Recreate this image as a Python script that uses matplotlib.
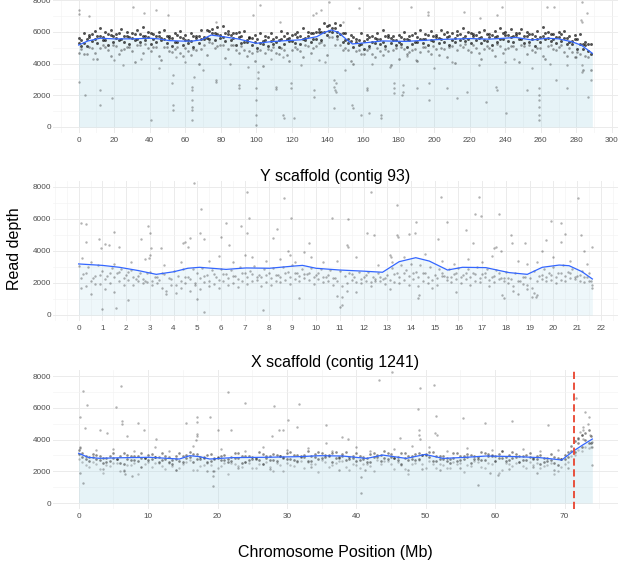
import numpy as np
import matplotlib.pyplot as plt
from matplotlib.ticker import MultipleLocator, FixedLocator

plt.rcParams['font.family'] = ['Liberation Sans', 'DejaVu Sans']

# ---------------- top panel (title cut off at top) ----------------
top_smooth_x = [0, 5, 12, 20, 30, 40, 45, 51, 58, 64, 69, 74.5, 80, 90, 100, 108, 117, 125, 134, 138,
                142, 146, 151, 154, 160, 171, 184, 203, 220, 231, 246, 255, 263.5, 270, 277.5, 283, 289]
top_smooth_y = [5170, 5420, 5600, 5560, 5560, 5600, 5560, 5450, 5420, 5420, 5500, 5800, 5720, 5550, 5280, 5380, 5450, 5500, 5700, 5950,
                6120, 5980, 5490, 5240, 5300, 5430, 5400, 5520, 5580, 5540, 5650, 5490, 5600, 5560, 5380, 5150, 4650]

top_band_x = [0, 3, 6, 9, 12, 15, 18, 21, 24, 27,
              30, 33, 36, 39, 42, 45, 48, 51, 54, 57,
              60, 63, 66, 69, 72, 75, 78, 81, 84, 87,
              90, 93, 96, 99, 102, 105, 108, 111, 114, 117,
              120, 123, 126, 129, 132, 135, 138, 141, 144, 147,
              150, 153, 156, 159, 162, 165, 168, 171, 174, 177,
              180, 183, 186, 189, 192, 195, 198, 201, 204, 207,
              210, 213, 216, 219, 222, 225, 228, 231, 234, 237,
              240, 243, 246, 249, 252, 255, 258, 261, 264, 267,
              270, 273, 276, 279, 282, 285, 288]
top_hi = [5600, 5930, 5790, 6060, 6250, 5970, 6110, 5850, 6170, 6010,
          5920, 6100, 6290, 6010, 5890, 5990, 6090, 5770, 5930, 6070,
          5800, 5960, 5740, 6110, 6100, 6160, 6280, 6400, 6060, 5900,
          5980, 6040, 5690, 5790, 5950, 5720, 5920, 5690, 6040, 5900,
          5830, 6010, 6220, 5990, 5950, 6210, 6530, 6420, 6550, 6450,
          5930, 5820, 5560, 5910, 5780, 5720, 5910, 6130, 5830, 5710,
          5830, 5980, 5740, 5940, 6110, 5860, 6040, 5800, 6130, 5980,
          5910, 6080, 6270, 5990, 5870, 5990, 6130, 5860, 6070, 6250,
          6000, 6180, 5940, 6210, 5970, 5850, 6070, 6290, 6010, 5890,
          5990, 6080, 5740, 5830, 5870, 5380, 5240]
top_mh = [5270, 5310, 5660, 5580, 5750, 5510, 5800, 5620, 5540, 5730,
          5600, 5520, 5710, 5700, 5550, 5750, 5530, 5600, 5350, 5650,
          5480, 5400, 5620, 5540, 5590, 5920, 5860, 5660, 5840, 5620,
          5700, 5380, 5600, 5350, 5280, 5510, 5420, 5340, 5550, 5550,
          5430, 5680, 5540, 5730, 5570, 6010, 6010, 6080, 6220, 5840,
          5490, 5400, 5370, 5260, 5520, 5380, 5540, 5350, 5650, 5470,
          5380, 5570, 5460, 5380, 5580, 5580, 5460, 5700, 5540, 5680,
          5470, 5790, 5630, 5560, 5740, 5600, 5490, 5660, 5670, 5560,
          5810, 5660, 5800, 5520, 5750, 5550, 5530, 5760, 5640, 5530,
          5680, 5600, 5380, 5520, 5240, 5150, 4620]
top_lo1 = [4670, 4600, 5050, 4660, 4980, 5040, 4470, 5090, 4880, 5060,
           4810, 5160, 4690, 4980, 5040, 4460, 5040, 4770, 4930, 4670,
           5000, 4520, 4830, 4950, 4550, 5330, 5080, 5200, 4900, 5180,
           4650, 4840, 4820, 4190, 4830, 4660, 4880, 4650, 5010, 4550,
           4850, 4940, 4420, 5110, 4970, 5280, 5200, 5680, 5150, 5180,
           5000, 4180, 4800, 4620, 4830, 4610, 4970, 4530, 4800, 4860,
           4300, 4930, 4740, 4940, 4710, 5060, 4600, 4890, 4970, 4430,
           5080, 4880, 5070, 4830, 5150, 4660, 4930, 4990, 4470, 5130,
           4940, 5140, 4900, 5180, 4620, 4870, 5000, 4490, 5130, 4910,
           5060, 4750, 5000, 4430, 4600, 4450, 3600]

top_band_x2 = [1.5, 4.5, 7.5, 10.5, 13.5, 16.5, 19.5, 22.5, 25.5, 28.5,
               31.5, 34.5, 37.5, 40.5, 43.5, 46.5, 49.5, 52.5, 55.5, 58.5,
               61.5, 64.5, 67.5, 70.5, 73.5, 76.5, 79.5, 82.5, 85.5, 88.5,
               91.5, 94.5, 97.5, 100.5, 103.5, 106.5, 109.5, 112.5, 115.5, 118.5,
               121.5, 124.5, 127.5, 130.5, 133.5, 136.5, 139.5, 142.5, 145.5, 148.5,
               151.5, 154.5, 157.5, 160.5, 163.5, 166.5, 169.5, 172.5, 175.5, 178.5,
               181.5, 184.5, 187.5, 190.5, 193.5, 196.5, 199.5, 202.5, 205.5, 208.5,
               211.5, 214.5, 217.5, 220.5, 223.5, 226.5, 229.5, 232.5, 235.5, 238.5,
               241.5, 244.5, 247.5, 250.5, 253.5, 256.5, 259.5, 262.5, 265.5, 268.5,
               271.5, 274.5, 277.5, 280.5, 283.5, 286.5]
top_h2 = [5510, 5530, 5850, 5760, 5660, 5860, 5720, 5940, 5770, 5650,
          5880, 5840, 5720, 5930, 5760, 5600, 5760, 5590, 5810, 5630,
          5510, 5750, 5730, 5700, 6060, 5960, 5790, 5960, 5780, 5960,
          5720, 5510, 5640, 5550, 5440, 5690, 5570, 5480, 5720, 5610,
          5860, 5720, 5640, 5930, 5970, 5990, 6360, 6260, 5990, 5960,
          5570, 5660, 5500, 5410, 5660, 5630, 5530, 5760, 5600, 5470,
          5680, 5560, 5810, 5660, 5560, 5800, 5760, 5640, 5860, 5720,
          5620, 5850, 5730, 5960, 5780, 5650, 5860, 5810, 5710, 5940,
          5810, 5710, 5910, 5710, 5890, 5730, 5660, 5910, 5850, 5700,
          5860, 5640, 5440, 5560, 5260, 5230]
top_md = [5080, 5110, 5430, 5330, 5460, 5200, 5360, 5500, 5380, 5260,
          5480, 5340, 5460, 5220, 5370, 5480, 5300, 5140, 5340, 5170,
          5280, 5060, 5270, 5520, 5550, 5480, 5640, 5430, 5490, 5200,
          5300, 5360, 5150, 5000, 5230, 5110, 5250, 5040, 5230, 5400,
          5300, 5210, 5460, 5370, 5580, 5490, 5820, 6020, 5750, 5380,
          5330, 5030, 5150, 4940, 5140, 5320, 5230, 5130, 5330, 5160,
          5260, 5030, 5220, 5390, 5290, 5190, 5420, 5270, 5390, 5160,
          5350, 5510, 5400, 5280, 5480, 5310, 5410, 5180, 5380, 5550,
          5450, 5350, 5540, 5310, 5370, 5140, 5360, 5540, 5420, 5280,
          5440, 5210, 5240, 4900, 4900, 4790]
top_lo2 = [4910, 4590, 4960, 4280, 5150, 4880, 5190, 4600, 4920, 5040,
           4070, 5170, 5250, 4780, 5020, 4240, 5030, 4740, 5050, 4460,
           4780, 4920, 3980, 5160, 5380, 4960, 5170, 4380, 5180, 4880,
           5130, 4460, 4690, 4780, 3820, 4940, 5040, 4600, 4880, 4160,
           5030, 4810, 5170, 4660, 5080, 5350, 4530, 5660, 5580, 4860,
           4860, 3980, 4840, 4620, 4970, 4420, 4770, 4910, 3920, 4990,
           5050, 4590, 4870, 4150, 5020, 4790, 5130, 4560, 4890, 5020,
           4060, 5150, 5230, 4760, 5010, 4260, 5100, 4860, 5210, 4650,
           4990, 5130, 4130, 5140, 5160, 4700, 5010, 4300, 5150, 4880,
           5150, 4500, 4740, 4760, 3610, 4430]

top_out_x = [0, 0, 5.8, 30.5, 37, 43.6, 0, 3.4, 11.8, 11.8, 18.6, 40.8, 52.8, 52.8, 52.8, 52.5,
             63.5, 63.5, 63.6, 63.5, 63.7, 63.5, 64.9, 77.3, 77.5, 90.4, 90.2, 99.8, 99.8, 99.9, 100,
             100.8, 100.8, 111, 111.2, 119.5, 119.5, 115.2, 115.3, 121.2, 97.8, 102, 50, 77.4, 113, 131.6,
             141, 133.5, 136.3, 143.5, 143.8, 144, 144.5, 145, 143.8, 138.8, 132.6, 132.6, 154, 154.2,
             158.8, 163.5, 170, 170.2, 162, 162.5, 177.5, 177.6, 177.4, 182.2, 182.3, 182.1, 197, 197.2,
             190.6, 207.5, 213, 218.7, 229, 235, 235.3, 240.3, 252.4, 259, 259.1, 259, 259.2, 259, 259.1,
             268.4, 275, 283.3, 283.4, 286.5, 288, 196.6, 196.8, 216.9, 226, 238.4, 235.6, 263.7, 267.4,
             282.4, 283.3, 283.3, 286, 157.9, 186.9, 148.5,
             20, 25, 35, 45, 60, 70, 85, 95, 108, 125, 135, 150, 165, 175, 190, 200, 210, 225, 245, 255,
             265, 275, 280, 8, 55, 115, 185, 240]
top_out_y = [7380, 7100, 7000, 7590, 7210, 7380, 2860, 2020, 2330, 1390, 1830, 440, 1390, 1070, 3280, 2750,
             2540, 2330, 1700, 1280, 1070, 440, 3180, 2960, 2860, 2650, 2440, 2440, 1700, 760, 150,
             3490, 3080, 2540, 2380, 2750, 2440, 760, 550, 550, 7060, 7690, 7060, 6650, 6650, 7060,
             7900, 7170, 7380, 2960, 2540, 2330, 2750, 2230, 1180, 4120, 2330, 1910, 1390, 1180,
             760, 860, 760, 550, 2330, 2440, 2750, 2440, 2120, 2650, 2230, 2020, 1700, 2750,
             2440, 2440, 1800, 2230, 1590, 2540, 2330, 860, 2330, 2440, 2020, 1700, 1280, 760, 440,
             2960, 2440, 3910, 3490, 1910, 2960, 7280, 7060, 7280, 6850, 7590, 7060, 7590, 7590,
             6750, 6640, 7900, 7170, 7480, 7590, 6650,
             4200, 3900, 4300, 3700, 4100, 3600, 4000, 3800, 4300, 3900, 4200, 3600, 4000, 3800, 4200, 3700,
             4100, 3900, 4300, 3700, 4000, 3900, 4400, 4300, 4400, 4400, 4450, 4100]

# ---------------- Y scaffold (contig 93) ----------------
y_smooth_x = [0, 1.0, 1.72, 2.5, 3.27, 4.0, 4.6, 5.09, 6.21, 7.05, 8.04, 9.0, 9.43, 10.0, 11.0,
              12.0, 12.8, 13.5, 14.2, 14.77, 15.54, 16.17, 17.15, 18.13, 18.9, 19.53, 20.24, 20.66, 21.2, 21.64]
y_smooth_y = [3190, 3100, 2980, 2780, 2540, 2700, 2920, 2980, 2850, 2940, 2920, 3050, 3100, 2920, 2810,
              2740, 2670, 3330, 3580, 3370, 2810, 2980, 2960, 2650, 2540, 2980, 3120, 3080, 2710, 2250]

y_core_x = [0.02, 0.2, 0.4, 0.6, 0.8, 1.0, 1.2, 1.4, 1.6, 1.8,
            2.0, 2.2, 2.4, 2.6, 2.8, 3.0, 3.2, 3.4, 3.6, 3.8,
            4.0, 4.2, 4.4, 4.6, 4.8, 5.0, 5.2, 5.4, 5.6, 5.8,
            6.0, 6.2, 6.4, 6.6, 6.8, 7.0, 7.2, 7.4, 7.6, 7.8,
            8.0, 8.2, 8.4, 8.6, 8.8, 9.0, 9.2, 9.4, 9.6, 9.8,
            10.0, 10.2, 10.4, 10.6, 10.8, 11.0, 11.2, 11.4, 11.6, 11.8,
            12.0, 12.2, 12.4, 12.6, 12.8, 13.0, 13.2, 13.4, 13.6, 13.8,
            14.0, 14.2, 14.4, 14.6, 14.8, 15.0, 15.2, 15.4, 15.6, 15.8,
            16.0, 16.2, 16.4, 16.6, 16.8, 17.0, 17.2, 17.4, 17.6, 17.8,
            18.0, 18.2, 18.4, 18.6, 18.8, 19.0, 19.2, 19.4, 19.6, 19.8,
            20.0, 20.2, 20.4, 20.6, 20.8, 21.0, 21.2, 21.4, 21.6]
y_core_a = [3050, 2550, 3000, 2300, 3100, 2750, 2450, 2950, 2600, 2850,
            2500, 2800, 2250, 2650, 2150, 2700, 2400, 2200, 2550, 2300,
            2750, 2450, 2850, 2350, 2900, 2600, 2950, 2500, 2800, 2400,
            2900, 2550, 2800, 2450, 3000, 2600, 2750, 3050, 2500, 2850,
            2600, 2950, 2500, 3000, 2700, 3100, 2650, 2900, 2550, 2950,
            2500, 2900, 2400, 2800, 2300, 2750, 2450, 2650, 2350, 2700,
            2400, 2700, 2350, 2600, 2250, 2500, 2950, 2650, 3150, 2800,
            3200, 2700, 3100, 2600, 3000, 2500, 2850, 2450, 2900, 2550,
            2950, 2500, 2850, 2600, 3000, 2550, 2900, 2400, 2800, 2300,
            2700, 2250, 2600, 2150, 2400, 2300, 2750, 2450, 2900, 2600,
            3000, 2600, 3100, 2700, 2900, 2450, 2750, 2350, 2150]
y_core_x2 = [0.1, 0.3, 0.5, 0.7, 0.9, 1.1, 1.3, 1.5, 1.7, 1.9,
             2.1, 2.3, 2.5, 2.7, 2.9, 3.1, 3.3, 3.5, 3.7, 3.9,
             4.1, 4.3, 4.5, 4.7, 4.9, 5.1, 5.3, 5.5, 5.7, 5.9,
             6.1, 6.3, 6.5, 6.7, 6.9, 7.1, 7.3, 7.5, 7.7, 7.9,
             8.1, 8.3, 8.5, 8.7, 8.9, 9.1, 9.3, 9.5, 9.7, 9.9,
             10.1, 10.3, 10.5, 10.7, 10.9, 11.1, 11.3, 11.5, 11.7, 11.9,
             12.1, 12.3, 12.5, 12.7, 12.9, 13.1, 13.3, 13.5, 13.7, 13.9,
             14.1, 14.3, 14.5, 14.7, 14.9, 15.1, 15.3, 15.5, 15.7, 15.9,
             16.1, 16.3, 16.5, 16.7, 16.9, 17.1, 17.3, 17.5, 17.7, 17.9,
             18.1, 18.3, 18.5, 18.7, 18.9, 19.1, 19.3, 19.5, 19.7, 19.9,
             20.1, 20.3, 20.5, 20.7, 20.9, 21.1, 21.3, 21.5, 21.62]
y_core_b = [2300, 1800, 2100, 2450, 1950, 2250, 2000, 2400, 2150, 2300,
            2200, 2350, 2100, 2250, 2050, 2150, 2000, 1700, 1500, 1850,
            1900, 2100, 2000, 2250, 1850, 2300, 2050, 2150, 1950, 2200,
            2100, 2300, 2000, 2250, 2150, 2350, 2100, 2200, 2400, 2050,
            2300, 2150, 2400, 2200, 2350, 2250, 2450, 2300, 2200, 2350,
            2250, 2400, 2150, 2300, 2100, 1800, 2000, 2200, 2050, 2250,
            2150, 2050, 2250, 2100, 2300, 2200, 2050, 2350, 2200, 2450,
            2250, 2400, 2150, 2350, 2200, 2300, 2450, 2200, 2350, 2250,
            2400, 2250, 2350, 2150, 2300, 2400, 2200, 2050, 2250, 2150,
            2000, 1800, 2100, 1950, 1600, 1700, 2100, 2250, 2350, 2200,
            2350, 2200, 2450, 2300, 2250, 2150, 2350, 2100, 1900]
y_core_c = [1700, 2600, 1300, 1950, 2500, 1650, 2600, 1450, 2700, 1900,
            2700, 1850, 2450, 2000, 2600, 1900, 2400, 2600, 1300, 2250,
            1350, 1700, 2350, 1500, 2000, 1650, 2450, 1800, 2550, 1700,
            2550, 1900, 2450, 1750, 2600, 1950, 2550, 2350, 1800, 2500,
            1900, 2500, 2050, 2600, 1950, 2600, 2100, 2550, 2650, 1950,
            2600, 2050, 2500, 1900, 1200, 600, 1500, 2550, 1450, 2000,
            2500, 1800, 2150, 2400, 1950, 1600, 2550, 2000, 2600, 1900,
            2650, 1800, 2600, 2000, 1700, 1900, 2650, 2400, 2050, 2600,
            2000, 2600, 1900, 2550, 2050, 2600, 1800, 2450, 2600, 2300,
            2300, 1500, 1300, 2400, 1900, 1100, 1250, 2500, 2100, 2500,
            2000, 2600, 2150, 2600, 2400, 2500, 2050, 2600, 1700]

y_out_x = [0.08, 0.32, 0.32, 0.15, 0.85, 0.95, 1.1, 1.28, 1.47, 1.72, 1.0, 1.58, 2.07, 2.64, 2.94, 3.0,
           3.06, 3.0, 2.98, 3.48, 4.4, 4.5, 4.6, 4.7, 4.88, 5.16, 5.3, 5.1, 5.3, 4.98, 6.0, 6.2, 6.35,
           6.84, 7.0, 7.1, 7.19, 7.1, 7.78, 8.17, 8.34, 8.64, 8.95, 8.8, 8.9, 9.3, 9.72, 9.5,
           10.67, 11.33, 11.3, 11.35, 12.31, 12.15, 12.45, 13.43, 13.4, 13.45, 13.9, 14.2, 14.15, 13.1,
           13.15, 11.0, 11.1, 15.26, 15.5, 15.15, 16.3, 16.6, 16.7, 16.87, 16.94, 17.5, 17.6, 17.8, 17.7,
           18.2, 18.25, 15.9, 14.35, 14.3, 19.2, 19.25, 18.8, 19.9, 20.3, 20.3, 20.5, 21.05, 21.15, 21.3,
           21.64, 17.9, 17.85, 19.5, 19.7,
           0.5, 1.5, 2.2, 2.8, 3.6, 4.3, 5.5, 5.9, 6.5, 7.3, 7.9, 8.5, 9.1, 9.8, 10.3, 10.9, 11.7, 12.6,
           13.2, 13.7, 14.6, 15.3, 15.8, 16.4, 17.0, 17.4, 18.5, 18.9, 19.3, 20.0, 20.7, 21.4]
y_out_y = [5770, 5690, 4580, 3540, 4730, 4170, 4440, 4375, 5210, 4270, 350, 460, 940, 4730, 5560, 5150,
           4170, 3760, 3540, 4170, 4480, 4580, 4270, 4790, 8230, 6600, 4730, 5150, 200, 980, 4900, 5730, 4375,
           5560, 3760, 7670, 6080, 5150, 310, 4800, 5360, 7290, 6040, 3970, 3760, 1040, 4480, 3930,
           6080, 5980, 4375, 4270, 7710, 5150, 5000, 6880, 4990, 4850, 5060, 5830, 5100, 3750,
           3640, 520, 1140, 7390, 5830, 4730, 5290, 4480, 6310, 7390, 6200, 4170, 4270, 3970, 6310,
           5000, 4480, 1460, 1250, 1040, 1350, 1150, 4480, 5850, 5730, 4580, 5040, 7280, 4990, 3970,
           4270, 1040, 1250, 3970, 4690,
           3300, 3200, 3300, 3500, 3100, 3300, 3400, 3700, 3300, 3600, 3400, 3500, 3300, 3600, 3300, 3400, 3600, 3100,
           3300, 3600, 3800, 3400, 3200, 3500, 3300, 3700, 3400, 3200, 3300, 3600, 3400, 3200]

# ---------------- X scaffold (contig 1241) ----------------
x_smooth_x = [0, 1.35, 3.0, 6.0, 10.2, 14.5, 16.0, 17.4, 18.9, 22.2, 27.0, 31.8, 34.7, 38.0,
              41.5, 43.8, 47.2, 49.9, 52.5, 55.9, 58.7, 63.1, 66.4, 69.6, 71.2, 72.6, 74.0]
x_smooth_y = [3130, 2880, 2815, 2850, 2880, 2770, 2980, 2920, 2770, 2860, 2880, 2920, 2980, 2960,
              2810, 3020, 2810, 3060, 2810, 2880, 2960, 2920, 2860, 2710, 3250, 3650, 4030]

x_core1_x = [0, 1, 2, 3, 4, 5, 6, 7, 8, 9, 10, 11, 12, 13, 14, 15, 16, 17, 18, 19,
             20, 21, 22, 23, 24, 25, 26, 27, 28, 29, 30, 31, 32, 33, 34, 35, 36, 37, 38, 39,
             40, 41, 42, 43, 44, 45, 46, 47, 48, 49, 50, 51, 52, 53, 54, 55, 56, 57, 58, 59,
             60, 61, 62, 63, 64, 65, 66, 67, 68, 69, 70, 71, 72, 73, 73.8]
x_core1_a = [3310, 2980, 3110, 2940, 2850, 3160, 2940, 3040, 2930, 3140,
             3000, 2880, 3150, 2890, 2960, 2960, 3240, 3070, 2870, 3100,
             2890, 3010, 2920, 3130, 2990, 2900, 3200, 2970, 3070, 2960,
             3170, 3040, 2950, 3270, 3060, 3170, 3040, 3230, 3080, 2920,
             3170, 2910, 3080, 3040, 3270, 3070, 2890, 3140, 2990, 3180,
             3110, 3210, 2960, 2850, 3170, 2960, 3070, 2970, 3200, 3080,
             2970, 3250, 3010, 3100, 2960, 3140, 2980, 2840, 3080, 2810,
             3050, 3600, 4100, 4400, 4250]
x_core1_b = [3090, 2760, 2880, 2710, 2610, 2820, 2550, 2770, 2690, 2840,
             2720, 2890, 2720, 2580, 2760, 2600, 2890, 2770, 2810, 2620,
             2830, 2720, 2640, 2850, 2570, 2790, 2700, 2840, 2730, 2930,
             2800, 2700, 2910, 2650, 2880, 2810, 2940, 2810, 2990, 2790,
             2630, 2800, 2600, 2890, 2830, 2910, 2710, 2850, 2790, 2780,
             3030, 2650, 2750, 2650, 2810, 2710, 2920, 2800, 2720, 2940,
             2650, 2840, 2740, 2880, 2740, 2910, 2750, 2600, 2740, 2420,
             2750, 3300, 3750, 3950, 3800]
x_core1_c = [2780, 2400, 2590, 2120, 2410, 2540, 2000, 2380, 2490, 2280,
             2600, 2510, 2310, 2540, 2080, 2480, 2680, 2100, 2370, 2400,
             2200, 2550, 2510, 2350, 2610, 2180, 2460, 2580, 2040, 2420,
             2530, 2320, 2650, 2600, 2450, 2730, 2280, 2550, 2660, 2050,
             2370, 2440, 2300, 2700, 2660, 2430, 2610, 2120, 2480, 2700,
             2200, 2470, 2460, 2230, 2570, 2520, 2370, 2650, 2240, 2540,
             2650, 2080, 2440, 2540, 2300, 2600, 2510, 2300, 2500, 2020,
             2450, 2950, 3350, 3550, 3500]

x_core2_x = [0.5, 1.5, 2.5, 3.5, 4.5, 5.5, 6.5, 7.5, 8.5, 9.5, 10.5, 11.5, 12.5, 13.5, 14.5, 15.5,
             16.5, 17.5, 18.5, 19.5, 20.5, 21.5, 22.5, 23.5, 24.5, 25.5, 26.5, 27.5, 28.5, 29.5,
             30.5, 31.5, 32.5, 33.5, 34.5, 35.5, 36.5, 37.5, 38.5, 39.5, 40.5, 41.5, 42.5, 43.5,
             44.5, 45.5, 46.5, 47.5, 48.5, 49.5, 50.5, 51.5, 52.5, 53.5, 54.5, 55.5, 56.5, 57.5,
             58.5, 59.5, 60.5, 61.5, 62.5, 63.5, 64.5, 65.5, 66.5, 67.5, 68.5, 69.5, 70.5, 71.5,
             72.5, 73.5]
x_core2_a = [3140, 2870, 3040, 2860, 2990, 2790, 3140, 2940, 2990, 2860,
             3080, 2890, 2970, 2730, 3120, 3010, 3080, 2880, 3030, 2830,
             2970, 2790, 3150, 2940, 2990, 2860, 3090, 2930, 3050, 2850,
             3200, 3000, 3050, 2940, 3190, 3030, 3130, 2910, 3210, 2950,
             2950, 2840, 3150, 3040, 3130, 2850, 3130, 2930, 3060, 3010,
             3210, 2940, 2990, 2780, 3140, 2950, 3010, 2910, 3160, 3000,
             3090, 2870, 3200, 2980, 3000, 2850, 3050, 2830, 2890, 2750,
             3200, 3900, 4300, 4600]
x_core2_b = [2900, 2630, 2770, 2490, 2640, 2760, 2460, 2720, 2640, 2850,
             2750, 2590, 2760, 2460, 2640, 2850, 2570, 2750, 2580, 2760,
             2700, 2590, 2810, 2540, 2680, 2790, 2480, 2740, 2660, 2880,
             2800, 2670, 2880, 2630, 2780, 2900, 2580, 2820, 2690, 2850,
             2720, 2600, 2880, 2670, 2780, 2820, 2450, 2710, 2710, 3000,
             2880, 2640, 2780, 2510, 2660, 2790, 2500, 2780, 2710, 2930,
             2820, 2670, 2860, 2580, 2690, 2780, 2440, 2640, 2500, 2780,
             2900, 3200, 3550, 3750]
x_core2_c = [2580, 2270, 2450, 1920, 2300, 2520, 2100, 2390, 1830, 2480,
             2290, 2500, 2140, 2340, 2220, 2560, 2070, 2360, 2490, 2030,
             2340, 1800, 2470, 2290, 2530, 2200, 2430, 2270, 2520, 2010,
             2380, 2600, 2180, 2480, 1930, 2590, 2400, 2620, 2250, 2430,
             2220, 2480, 2040, 2460, 2650, 2150, 2370, 1810, 2550, 2450,
             2650, 2220, 2390, 2220, 2480, 1980, 2360, 2600, 2190, 2480,
             1890, 2530, 2340, 2560, 2210, 2420, 2220, 2410, 1840, 2270,
             2600, 3000, 3300, 3450]

x_out_x = [0.14, 0.6, 1.2, 0.9, 0.2, 0.25, 0.6, 0.15, 3.0, 4.1, 5.4, 6.05, 6.2, 6.25, 6.9, 6.6, 6.7,
           7.7, 8.5, 9.4, 11.2, 15.5, 17.0, 17.05, 17.0, 17.1, 16.95, 18.9, 20.1, 19.4, 19.3, 19.35,
           21.5, 21.9, 23.9, 27.8, 28.1, 28.9, 29.4, 30.2, 31.4, 31.7,
           45.1, 43.2, 49.2, 51.2, 48.9, 49.1, 49.0, 49.2, 51.5, 51.4, 51.6, 55.4, 58.6, 62.4, 67.6,
           35.7, 38.0, 38.8, 46.3, 40.7, 40.7, 57.6, 59.2, 60.4, 66.0, 49.4, 35.7, 71.6, 72.9, 73.5,
           72.6, 72.7, 72.5, 72.6, 73.9, 73.9, 73.9, 73.6, 72.2, 72.0, 73.4,
           2.5, 5, 8, 11, 13, 16.5, 20.5, 24, 26.5, 30, 33, 36.5, 40, 42, 45.5, 48, 50.5, 53, 56, 59.5,
           61, 64, 66.5, 69, 3.5, 9, 14, 18.5, 23, 27.5, 33.5, 37.5, 41.2, 47.5, 52, 55, 62, 65.5, 68.5, 70.5]
x_out_y = [5400, 7080, 6170, 4700, 3550, 3450, 1280, 1870, 4600, 4400, 6050, 7370, 5190, 5000, 4200, 2000, 1800,
           1700, 5060, 4600, 4010, 5060, 5400, 5100, 4350, 4200, 3950, 5400, 4600, 1070, 2000, 1700,
           7010, 4620, 6300, 4200, 6130, 4600, 4600, 5200, 4780, 6260,
           8270, 7750, 7220, 7430, 5900, 4580, 4270, 4060, 5460, 4390, 4270, 5380, 5020, 5190, 4920,
           4900, 4170, 4060, 4100, 1660, 650, 1130, 1870, 1760, 1910, 2170, 3760, 6590, 5750, 5440,
           4790, 4580, 4270, 4060, 3850, 3530, 2390, 4270, 4480, 4060, 5000,
           3350, 3400, 3300, 3500, 3250, 3600, 3400, 3300, 3500, 3350, 3450, 3300, 3500, 3250, 3400, 3600,
           3500, 3300, 3450, 3350, 3250, 3400, 3300, 3350, 2150, 2250, 2100, 2000, 2200, 2150, 2250, 2100,
           2050, 2100, 2050, 2200, 2150, 2250, 2100, 2200]
x_boundary = 71.3

# ---------------- drawing ----------------
W, H = 637, 574
fig = plt.figure(figsize=(W / 100, H / 100), dpi=100)


def make_axes(bottom_px, top_px):
    return fig.add_axes([53 / W, 1 - bottom_px / H, 565 / W, (bottom_px - top_px) / H])


def style(ax, xlim, xticks, xminor, ylim):
    ax.set_xlim(*xlim)
    ax.set_ylim(*ylim)
    ax.xaxis.set_major_locator(FixedLocator(xticks))
    ax.xaxis.set_minor_locator(MultipleLocator(xminor))
    ax.yaxis.set_major_locator(FixedLocator([0, 2000, 4000, 6000, 8000]))
    ax.yaxis.set_minor_locator(MultipleLocator(1000))
    ax.grid(which='major', color='#EBEBEB', lw=0.7)
    ax.grid(which='minor', color='#F3F3F3', lw=0.45)
    ax.set_axisbelow(True)
    for s in ax.spines.values():
        s.set_visible(False)
    ax.tick_params(which='both', length=0, labelsize=5.9, labelcolor='#4D4D4D')
    ax.tick_params(axis='x', pad=2.5)
    ax.tick_params(axis='y', pad=1.5)


def points(ax, xs, ys, size=2.5, alpha=0.3):
    ax.scatter(xs, ys, s=size, color='black', alpha=alpha, linewidths=0, zorder=2)


def ribbon(ax, xs, ys, alpha):
    ax.fill_between(xs, 0, ys, color='#ADD8E6', alpha=alpha, linewidth=0, zorder=1)


# top panel
ax1 = make_axes(133.3, -5.5)
style(ax1, (-14.45, 303.45), list(range(0, 301, 20)), 10, (-400, 8360))
ribbon(ax1, top_smooth_x, top_smooth_y, 0.3)
for lvl in (top_hi, top_mh):
    points(ax1, top_band_x, lvl, size=4.5, alpha=0.68)
for lvl in (top_h2, top_md):
    points(ax1, top_band_x2, lvl, size=4.5, alpha=0.68)
points(ax1, top_band_x, top_lo1, size=3.5, alpha=0.38)
points(ax1, top_band_x2, top_lo2, size=3.5, alpha=0.38)
points(ax1, top_out_x, top_out_y, size=3, alpha=0.3)
ax1.plot(top_smooth_x, top_smooth_y, color='#3366FF', lw=0.9, zorder=3)

# Y scaffold
ax2 = make_axes(321.4, 181.2)
style(ax2, (-1.08, 22.72), list(range(0, 23)), 0.5, (-400, 8360))
ribbon(ax2, y_smooth_x, y_smooth_y, 0.2)
points(ax2, y_core_x, y_core_a, size=3, alpha=0.3)
points(ax2, y_core_x2, y_core_b, size=3, alpha=0.3)
points(ax2, y_core_x2, y_core_c, size=3, alpha=0.3)
points(ax2, y_out_x, y_out_y, size=3, alpha=0.3)
ax2.plot(y_smooth_x, y_smooth_y, color='#3366FF', lw=0.9, zorder=3)
fig.text(335 / W, 1 - 180.5 / H, 'Y scaffold (contig 93)', ha='center', va='baseline', fontsize=11.5)

# X scaffold
ax3 = make_axes(509.35, 370.3)
style(ax3, (-3.7, 77.7), list(range(0, 71, 10)), 5, (-400, 8360))
ribbon(ax3, x_smooth_x, x_smooth_y, 0.3)
points(ax3, x_core1_x, x_core1_a, size=3.5, alpha=0.45)
points(ax3, x_core1_x, x_core1_b, size=3.5, alpha=0.45)
points(ax3, x_core2_x, x_core2_a, size=3.5, alpha=0.45)
points(ax3, x_core2_x, x_core2_b, size=3.5, alpha=0.45)
points(ax3, x_core1_x, x_core1_c, size=3, alpha=0.22)
points(ax3, x_core2_x, x_core2_c, size=3, alpha=0.22)
points(ax3, x_out_x, x_out_y, size=3, alpha=0.3)
ax3.plot(x_smooth_x, x_smooth_y, color='#3366FF', lw=0.9, zorder=3)
ax3.axvline(x_boundary, color='#E8432E', lw=1.3, ls=(0, (4, 2)), zorder=4)
fig.text(335 / W, 1 - 366.5 / H, 'X scaffold (contig 1241)', ha='center', va='baseline', fontsize=11.5)

fig.text(14 / W, 1 - 249 / H, 'Read depth', rotation=90, ha='center', va='center', fontsize=11.5)
fig.text(335 / W, 1 - 553 / H, 'Chromosome Position (Mb)', ha='center', va='center', fontsize=11.5)

fig.savefig('out.png', dpi=100)
